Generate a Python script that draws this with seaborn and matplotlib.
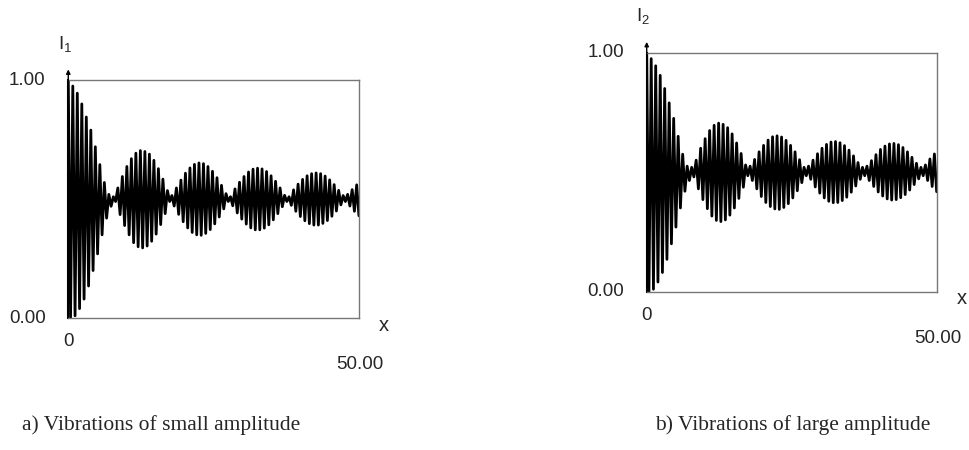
import numpy as np
import pandas as pd
import seaborn as sns
import matplotlib.pyplot as plt

# carrier period (units of x)
period = 0.775

# turning points read per carrier cycle: upper peaks and lower troughs
upper_a = [1.00, 0.975, 0.945, 0.90, 0.845, 0.79, 0.72, 0.645, 0.57, 0.52,
           0.51, 0.547, 0.595, 0.637, 0.67, 0.693, 0.704, 0.70, 0.689, 0.663,
           0.628, 0.584, 0.536, 0.515, 0.547, 0.58, 0.609, 0.631, 0.646, 0.652,
           0.649, 0.637, 0.617, 0.59, 0.558, 0.523, 0.51, 0.543, 0.571, 0.595,
           0.614, 0.626, 0.63, 0.627, 0.616, 0.598, 0.575, 0.547, 0.516, 0.51,
           0.539, 0.563, 0.583, 0.598, 0.607, 0.61, 0.607, 0.597, 0.581, 0.561,
           0.537, 0.515, 0.52, 0.54, 0.56]
lower_a = [0.00, 0.01, 0.04, 0.08, 0.135, 0.20, 0.27, 0.35, 0.42, 0.47,
           0.49, 0.435, 0.389, 0.35, 0.317, 0.30, 0.295, 0.303, 0.323, 0.353,
           0.393, 0.439, 0.49, 0.471, 0.436, 0.405, 0.379, 0.36, 0.35, 0.348,
           0.356, 0.372, 0.396, 0.425, 0.459, 0.49, 0.472, 0.442, 0.416, 0.395,
           0.379, 0.371, 0.371, 0.378, 0.392, 0.413, 0.439, 0.468, 0.49, 0.474,
           0.449, 0.427, 0.409, 0.397, 0.391, 0.391, 0.398, 0.41, 0.428, 0.45,
           0.476, 0.49, 0.471, 0.449, 0.43]

upper_b = [1.00, 0.975, 0.945, 0.905, 0.85, 0.79, 0.725, 0.65, 0.575, 0.525,
           0.52, 0.55, 0.60, 0.64, 0.674, 0.696, 0.705, 0.70, 0.686, 0.66,
           0.622, 0.578, 0.53, 0.525, 0.553, 0.585, 0.612, 0.634, 0.648, 0.652,
           0.647, 0.633, 0.612, 0.585, 0.552, 0.52, 0.525, 0.55, 0.577, 0.60,
           0.616, 0.626, 0.628, 0.623, 0.611, 0.592, 0.568, 0.54, 0.52, 0.525,
           0.548, 0.573, 0.595, 0.609, 0.618, 0.62, 0.615, 0.603, 0.585, 0.562,
           0.537, 0.52, 0.53, 0.555, 0.576]
lower_b = [0.00, 0.01, 0.04, 0.08, 0.135, 0.20, 0.27, 0.35, 0.42, 0.465,
           0.48, 0.43, 0.385, 0.347, 0.316, 0.298, 0.293, 0.30, 0.32, 0.35,
           0.39, 0.437, 0.485, 0.465, 0.43, 0.398, 0.373, 0.356, 0.346, 0.344,
           0.352, 0.368, 0.392, 0.422, 0.456, 0.485, 0.47, 0.438, 0.412, 0.392,
           0.378, 0.372, 0.373, 0.381, 0.395, 0.416, 0.442, 0.47, 0.485, 0.465,
           0.44, 0.417, 0.40, 0.388, 0.383, 0.385, 0.393, 0.406, 0.425, 0.448,
           0.472, 0.485, 0.465, 0.44, 0.418]

x_max = 50.0
y_labels = ["0.00", "1.00"]
captions = ["a) Vibrations of small amplitude", "b) Vibrations of large amplitude"]


def turning_points(upper, lower):
    y = np.empty(2 * len(upper))
    y[0::2] = upper
    y[1::2] = lower
    x = np.arange(len(y)) * period / 2
    return pd.DataFrame({"x": x, "I": y})


sns.set_style("white")
plt.rcParams["font.family"] = ["Liberation Sans", "DejaVu Sans"]

fig = plt.figure(figsize=(9.7, 4.5), dpi=100)
panels = [
    dict(rect=[0.0704, 0.293, 0.2997, 0.529], df=turning_points(upper_a, lower_a),
         sub="1", cap_x=0.0227),
    dict(rect=[0.6667, 0.352, 0.299, 0.531], df=turning_points(upper_b, lower_b),
         sub="2", cap_x=0.675),
]

for p, cap in zip(panels, captions):
    ax = fig.add_axes(p["rect"])
    sns.lineplot(data=p["df"], x="x", y="I", sort=False, estimator=None,
                 color="black", lw=2.0, ax=ax)
    ax.set_xlim(0, x_max)
    ax.set_ylim(0, 1)
    ax.set_xticks([])
    ax.set_yticks([])
    ax.set_xlabel("")
    ax.set_ylabel("")
    for s in ax.spines.values():
        s.set_color("#777777")
        s.set_linewidth(1.0)
    ax.spines["left"].set_color("black")
    ax.spines["left"].set_linewidth(1.5)
    ax.annotate("", xy=(0, 1.045), xytext=(0, 0.9), xycoords="axes fraction",
                arrowprops=dict(arrowstyle="-|>", color="black", lw=1.0,
                                mutation_scale=6, shrinkA=0, shrinkB=0))

    t = ax.transAxes
    fs = 13.5
    ax.text(-0.078, 1.0, y_labels[1], transform=t, ha="right", va="center", fontsize=fs)
    ax.text(-0.078, 0.0, y_labels[0], transform=t, ha="right", va="center", fontsize=fs)
    ax.text(0.0, -0.10, "0", transform=t, ha="center", va="center", fontsize=fs)
    ax.text(1.085, -0.03, "x", transform=t, ha="center", va="center", fontsize=fs + 1)
    ax.text(1.085, -0.195, f"{x_max:.2f}", transform=t, ha="right", va="center", fontsize=fs)
    ax.text(-0.012, 1.15, "I$_{\\mathregular{" + p["sub"] + "}}$", transform=t,
            ha="center", va="center", fontsize=fs)

    fig.text(p["cap_x"], 0.056, cap, ha="left", va="center", fontsize=15.5,
             family=["Liberation Serif", "DejaVu Serif"])

fig.savefig("out.png", dpi=100, facecolor="white")
